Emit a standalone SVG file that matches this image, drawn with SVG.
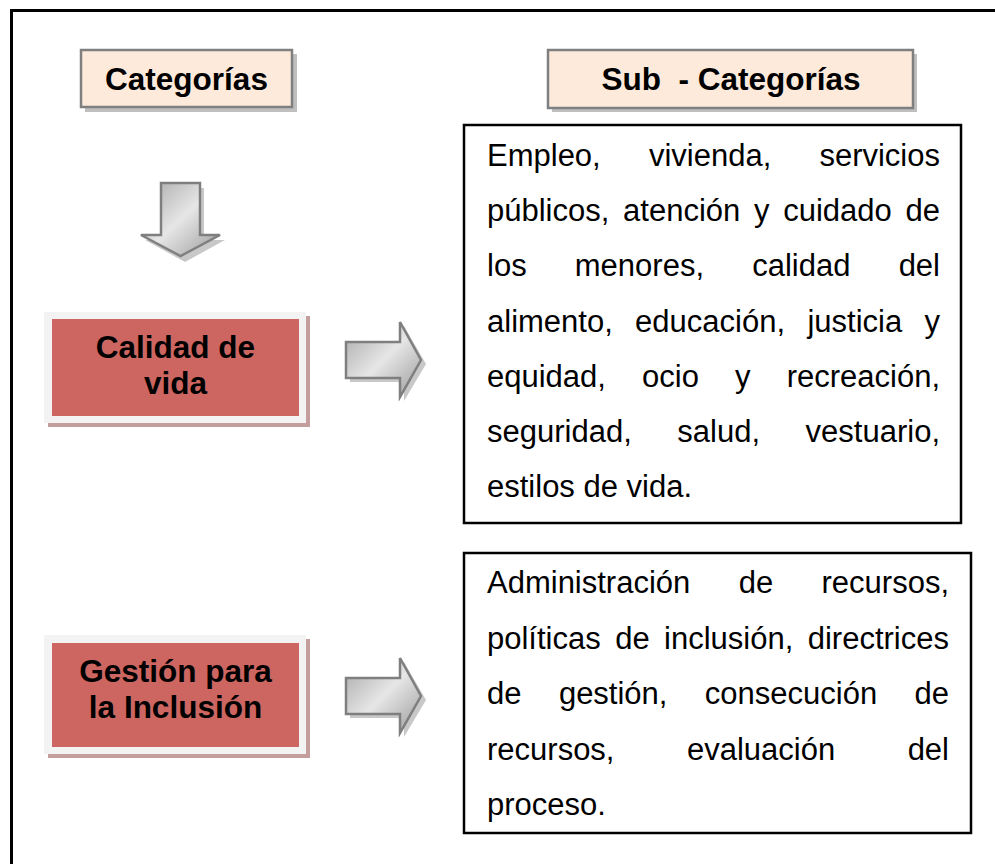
<svg xmlns="http://www.w3.org/2000/svg" width="995" height="864" viewBox="0 0 995 864">
<style>
.hdr{fill:#fdeadb;stroke:#7f7f7f;stroke-width:2.5}
.hsh{fill:#bfbfbf}
.rfr{fill:#f3f3f3}
.rsh{fill:#c49e9c}
.red{fill:#cd6660}
.arr{fill:url(#g);stroke:#7f7f7f;stroke-width:2.5;stroke-linejoin:miter}
.ash{fill:#c8c8c8}
.box{fill:#fff;stroke:#000;stroke-width:2.5}
.b{font-family:"Liberation Sans",Arial,sans-serif;font-weight:bold;font-size:31.5px;fill:#000;text-anchor:middle;white-space:pre}
.t{font-family:"Liberation Sans",Arial,sans-serif;font-size:31px;fill:#000}
.e{text-anchor:end}
</style>
<defs>
<linearGradient id="g" x1="0" y1="0" x2="1" y2="1">
<stop offset="0" stop-color="#a6a6a6"/>
<stop offset="0.5" stop-color="#e6e6e6"/>
<stop offset="1" stop-color="#9a9a9a"/>
</linearGradient>
</defs>
<rect width="995" height="864" fill="#fff"/>
<path d="M11.5,870 V10.5 H1000" fill="none" stroke="#000" stroke-width="3"/>

<g id="hdr-categorias">
<rect class="hsh" x="85" y="54" width="212" height="58"/>
<rect class="hdr" x="81" y="50" width="211" height="57"/>
<text class="b" x="186.5" y="90">Categorías</text>
</g>
<g id="hdr-subcategorias">
<rect class="hsh" x="552" y="54" width="365" height="58"/>
<rect class="hdr" x="548" y="50" width="365" height="58"/>
<text class="b" x="731" y="90">Sub  - Categorías</text>
</g>

<g id="calidad">
<rect class="rsh" x="48" y="316" width="262" height="111"/>
<rect class="rfr" x="44" y="312" width="262" height="111"/>
<rect class="red" x="52" y="319" width="247" height="97"/>
<text class="b" x="175.5" y="358">Calidad de</text>
<text class="b" x="175.5" y="394">vida</text>
</g>

<g id="gestion">
<rect class="rsh" x="48" y="639" width="262" height="119"/>
<rect class="rfr" x="44" y="635" width="262" height="119"/>
<rect class="red" x="52" y="643" width="247" height="104"/>
<text class="b" x="175.5" y="682">Gestión para</text>
<text class="b" x="175.5" y="718">la Inclusión</text>
</g>

<g id="sub-calidad">
<rect class="box" x="464" y="125" width="497" height="398"/>
<text class="t" y="166"><tspan x="487">Empleo,</tspan><tspan x="648.9">vivienda,</tspan><tspan class="e" x="940">servicios</tspan></text>
<text class="t" y="221.2"><tspan x="487">públicos,</tspan><tspan x="623.1">atención</tspan><tspan x="754">y</tspan><tspan x="783.2">cuidado</tspan><tspan class="e" x="940">de</tspan></text>
<text class="t" y="276.4"><tspan x="487">los</tspan><tspan x="574.8">menores,</tspan><tspan x="752.2">calidad</tspan><tspan class="e" x="940">del</tspan></text>
<text class="t" y="331.6"><tspan x="487">alimento,</tspan><tspan x="635.1">educación,</tspan><tspan x="807.4">justicia</tspan><tspan class="e" x="940">y</tspan></text>
<text class="t" y="386.8"><tspan x="487">equidad,</tspan><tspan x="642">ocio</tspan><tspan x="735">y</tspan><tspan class="e" x="940">recreación,</tspan></text>
<text class="t" y="442"><tspan x="487">seguridad,</tspan><tspan x="677.3">salud,</tspan><tspan class="e" x="940">vestuario,</tspan></text>
<text class="t" x="487" y="497.2">estilos de vida.</text>
</g>

<g id="sub-gestion">
<rect class="box" x="464" y="553" width="507" height="280"/>
<text class="t" y="593"><tspan x="487">Administración</tspan><tspan x="738.7">de</tspan><tspan class="e" x="949">recursos,</tspan></text>
<text class="t" y="648.5"><tspan x="487">políticas</tspan><tspan x="615.2">de</tspan><tspan x="664.1">inclusión,</tspan><tspan class="e" x="949">directrices</tspan></text>
<text class="t" y="704"><tspan x="487">de</tspan><tspan x="558.9">gestión,</tspan><tspan x="704.8">consecución</tspan><tspan class="e" x="949">de</tspan></text>
<text class="t" y="759.5"><tspan x="487">recursos,</tspan><tspan x="687">evaluación</tspan><tspan class="e" x="949">del</tspan></text>
<text class="t" x="487" y="815">proceso.</text>
</g>

<g id="connectors">
<path class="ash" d="M165,188 H204 V240 H225 L185,262 L145,240 H165 Z"/>
<path class="arr" d="M161,183 H200 V235 H220 L180.5,256 L141,235 H161 Z"/>
<path class="ash" d="M350,346 H404 V326 L426,364 L404,401 V382 H350 Z"/>
<path class="arr" d="M346,342 H400 V322 L421,360 L400,397 V378 H346 Z"/>
<path class="ash" d="M350,682 H404 V662 L426,700 L404,737 V718 H350 Z"/>
<path class="arr" d="M346,678 H400 V658 L421,696 L400,733 V714 H346 Z"/>
</g>
</svg>
